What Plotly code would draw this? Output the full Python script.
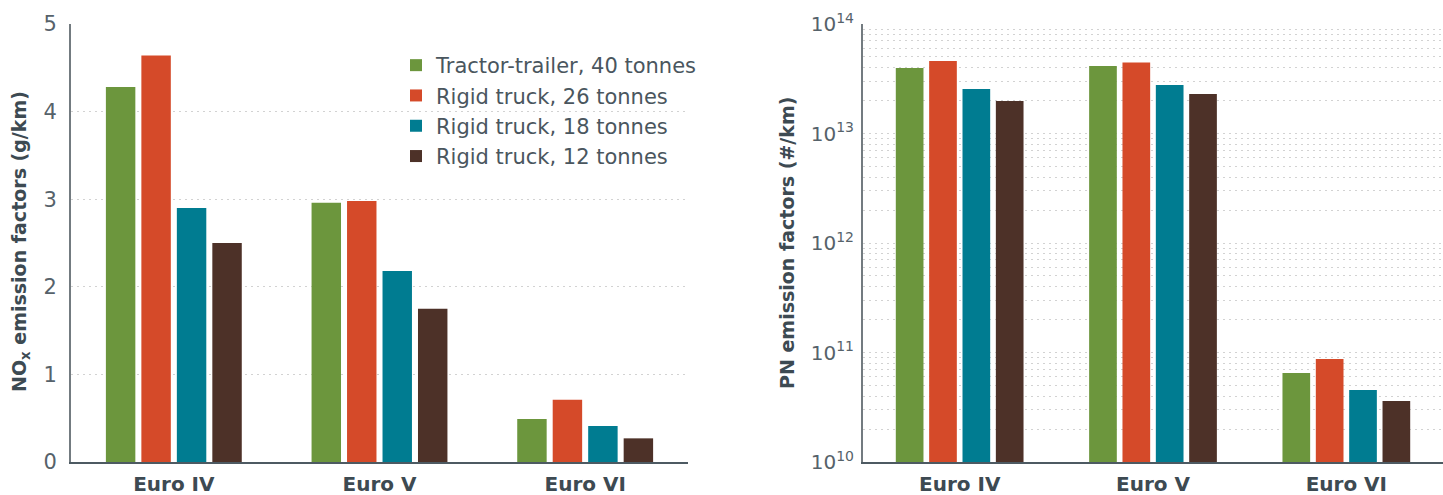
import plotly.graph_objects as go

categories = ["Euro IV", "Euro V", "Euro VI"]
series_names = ["Tractor-trailer, 40 tonnes", "Rigid truck, 26 tonnes",
                "Rigid truck, 18 tonnes", "Rigid truck, 12 tonnes"]
colors = ["#6c963d", "#d54a29", "#007c91", "#4d3128"]

nox_tractor_40 = [4.28, 2.96, 0.49]
nox_rigid_26 = [4.64, 2.98, 0.71]
nox_rigid_18 = [2.90, 2.18, 0.41]
nox_rigid_12 = [2.50, 1.75, 0.27]

pn_tractor_40 = [3.96e13, 4.13e13, 6.5e10]
pn_rigid_26 = [4.6e13, 4.45e13, 8.7e10]
pn_rigid_18 = [2.55e13, 2.77e13, 4.55e10]
pn_rigid_12 = [1.98e13, 2.3e13, 3.6e10]

nox_ticks = [0, 1, 2, 3, 4, 5]
pn_tickvals = [1e10, 1e11, 1e12, 1e13, 1e14]
pn_ticktext = ["10<sup>10</sup>", "10<sup>11</sup>", "10<sup>12</sup>",
               "10<sup>13</sup>", "10<sup>14</sup>"]

nox_series = [nox_tractor_40, nox_rigid_26, nox_rigid_18, nox_rigid_12]
pn_series = [pn_tractor_40, pn_rigid_26, pn_rigid_18, pn_rigid_12]

W, H = 1443, 495
font_family = "DejaVu Sans, Open Sans, sans-serif"
tick_color = "#56626a"
dark = "#3d4a52"
grid_color = "#d2d2d2"
grid_dash = "2px,4px"

fig = go.Figure()
for i in range(4):
    fig.add_trace(go.Bar(x=categories, y=nox_series[i], name=series_names[i],
                         marker=dict(color=colors[i], line=dict(width=0)),
                         xaxis="x", yaxis="y", legendgroup=f"g{i}",
                         showlegend=True))
for i in range(4):
    fig.add_trace(go.Bar(x=categories, y=pn_series[i], name=series_names[i],
                         marker=dict(color=colors[i], line=dict(width=0)),
                         xaxis="x2", yaxis="y2", legendgroup=f"g{i}",
                         showlegend=False))

y_dom = [(H - 462) / H, (H - 24) / H]

fig.update_layout(
    width=W, height=H,
    margin=dict(l=0, r=0, t=0, b=0),
    paper_bgcolor="white", plot_bgcolor="white",
    font=dict(family=font_family, color=tick_color),
    barmode="group", bargap=0.31, bargroupgap=0.17,
    showlegend=True,
    legend=dict(x=396 / W, y=(H - 45) / H, xanchor="left", yanchor="top",
                font=dict(size=21, color="#4a565e"),
                tracegroupgap=0, bgcolor="rgba(0,0,0,0)",
                itemwidth=30),
    xaxis=dict(domain=[71 / W, 688 / W], anchor="y",
               showline=True, linecolor="#4d5a62", linewidth=2,
               ticks="outside", ticklen=3, tickcolor="rgba(0,0,0,0)",
               tickfont=dict(size=20, color=dark, family=font_family, weight="bold"),
               showgrid=False, automargin=False),
    yaxis=dict(domain=y_dom, anchor="x", range=[0, 5],
               tickvals=nox_ticks,
               showline=True, linecolor="#737b80", linewidth=2,
               ticks="outside", ticklen=8, tickcolor="rgba(0,0,0,0)",
               tickfont=dict(size=21, color=tick_color),
               showgrid=True, gridcolor=grid_color, gridwidth=1.2,
               griddash=grid_dash, zeroline=False, automargin=False),
    xaxis2=dict(domain=[863 / W, 1.0], anchor="y2",
                showline=True, linecolor="#4d5a62", linewidth=2,
                ticks="outside", ticklen=3, tickcolor="rgba(0,0,0,0)",
                tickfont=dict(size=20, color=dark, family=font_family, weight="bold"),
                showgrid=False, automargin=False),
    yaxis2=dict(domain=y_dom, anchor="x2", type="log", range=[10, 14],
                tickvals=pn_tickvals, ticktext=pn_ticktext,
                showline=True, linecolor="#737b80", linewidth=2,
                ticks="outside", ticklen=3, tickcolor="rgba(0,0,0,0)",
                tickfont=dict(size=20, color=tick_color),
                showgrid=True, gridcolor=grid_color, gridwidth=1.2,
                griddash=grid_dash, zeroline=False, automargin=False,
                minor=dict(dtick="D1", showgrid=True, gridcolor=grid_color,
                           gridwidth=1.2, griddash=grid_dash, ticks="")),
    annotations=[
        dict(text="NO<sub>x</sub> emission factors (g/km)", textangle=-90,
             x=20 / W, y=(H - 242) / H, xref="paper", yref="paper",
             showarrow=False, xanchor="center", yanchor="middle",
             font=dict(size=19, color=dark, family=font_family, weight="bold")),
        dict(text="PN emission factors (#/km)", textangle=-90,
             x=787 / W, y=(H - 243) / H, xref="paper", yref="paper",
             showarrow=False, xanchor="center", yanchor="middle",
             font=dict(size=19, color=dark, family=font_family, weight="bold")),
    ],
)

fig.write_html("out.html")
